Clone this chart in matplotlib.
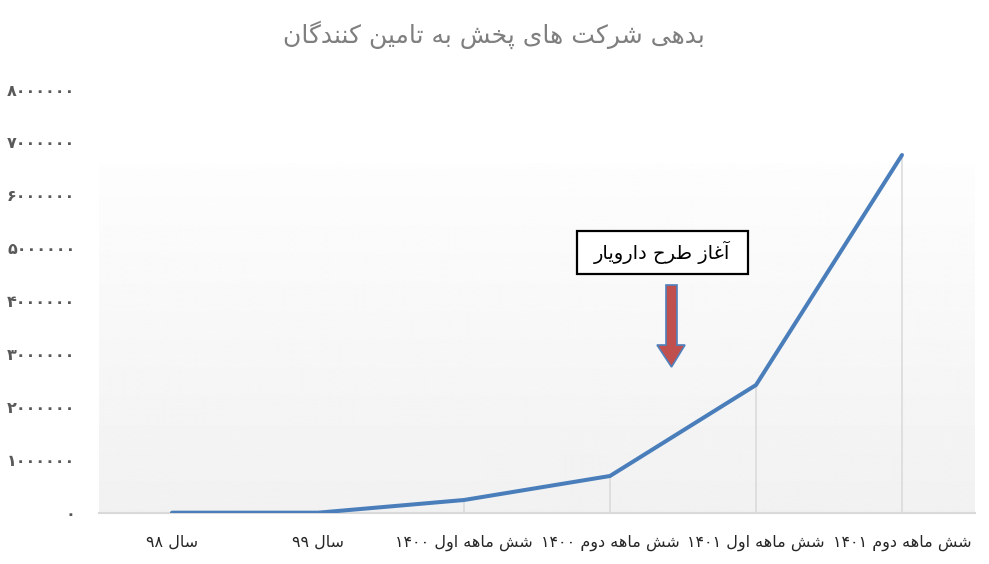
import re
import numpy as np
import matplotlib
matplotlib.use("Agg")
import matplotlib.pyplot as plt
from matplotlib.patches import Rectangle, Polygon
from matplotlib.colors import LinearSegmentedColormap

# data
periods = ["سال ۹۸", "سال ۹۹", "شش ماهه اول ۱۴۰۰", "شش ماهه دوم ۱۴۰۰",
           "شش ماهه اول ۱۴۰۱", "شش ماهه دوم ۱۴۰۱"]
debt = [0, 0, 240000, 694000, 2414000, 6762000]
y_ticks = [0, 1000000, 2000000, 3000000, 4000000, 5000000, 6000000, 7000000, 8000000]
title = "بدهی شرکت های پخش به تامین کنندگان"
note = "آغاز طرح دارویار"

# --- tiny arabic/persian shaper (matplotlib has no text shaping) ---
# letter: (isolated, final, initial, medial) ; right-joining letters have only 2 forms
FORMS = {
    'ا': (0xFE8D, 0xFE8E), 'آ': (0xFE81, 0xFE82),
    'د': (0xFEA9, 0xFEAA), 'ر': (0xFEAD, 0xFEAE), 'ز': (0xFEAF, 0xFEB0), 'و': (0xFEED, 0xFEEE),
    'ب': (0xFE8F, 0xFE90, 0xFE91, 0xFE92), 'ت': (0xFE95, 0xFE96, 0xFE97, 0xFE98),
    'ح': (0xFEA1, 0xFEA2, 0xFEA3, 0xFEA4), 'خ': (0xFEA5, 0xFEA6, 0xFEA7, 0xFEA8),
    'س': (0xFEB1, 0xFEB2, 0xFEB3, 0xFEB4), 'ش': (0xFEB5, 0xFEB6, 0xFEB7, 0xFEB8),
    'ط': (0xFEC1, 0xFEC2, 0xFEC3, 0xFEC4), 'غ': (0xFECD, 0xFECE, 0xFECF, 0xFED0),
    'ل': (0xFEDD, 0xFEDE, 0xFEDF, 0xFEE0), 'م': (0xFEE1, 0xFEE2, 0xFEE3, 0xFEE4),
    'ن': (0xFEE5, 0xFEE6, 0xFEE7, 0xFEE8), 'ه': (0xFEE9, 0xFEEA, 0xFEEB, 0xFEEC),
    'پ': (0xFB56, 0xFB57, 0xFB58, 0xFB59), 'ک': (0xFB8E, 0xFB8F, 0xFB90, 0xFB91),
    'گ': (0xFB92, 0xFB93, 0xFB94, 0xFB95), 'ی': (0xFBFC, 0xFBFD, 0xFBFE, 0xFBFF),
}

def fa(s):
    out = []
    for i, c in enumerate(s):
        if c not in FORMS:
            out.append(c)
            continue
        f = FORMS[c]
        prev = s[i-1] if i > 0 else ''
        nxt = s[i+1] if i < len(s)-1 else ''
        jp = prev in FORMS and len(FORMS[prev]) == 4
        jn = len(f) == 4 and nxt in FORMS
        if jp and jn:
            k = 3
        elif jp:
            k = 1
        elif jn:
            k = 2
        else:
            k = 0
        out.append(chr(f[k]))
    vis = ''.join(out)[::-1]
    # digits stay left-to-right
    return re.sub(r'[0-9۰-۹]+', lambda m: m.group(0)[::-1], vis)

def fa_num(v):
    return str(v).translate(str.maketrans('0123456789', '۰۱۲۳۴۵۶۷۸۹'))

plt.rcParams['font.family'] = ['DejaVu Sans']

W, H = 989, 564
fig = plt.figure(figsize=(W/100, H/100), dpi=100)
ax = fig.add_axes([99/W, 1-512.7/H, (975-99)/W, (512.7-89.5)/H])

x = np.arange(len(periods))

# gradient plot-area fill
grad = np.linspace(0.993, 0.945, 200).reshape(-1, 1)
cm = LinearSegmentedColormap.from_list('g', ['black', 'white'])
ax.imshow(grad, cmap=cm, vmin=0, vmax=1, extent=[-0.5, 5.5, 0, 6.61e6],
          aspect='auto', zorder=0, interpolation='bilinear')

ax.vlines(x, 0, debt, colors='#d9d9d9', lw=1.1, zorder=1)
ax.plot(x, debt, color='#4a7ebb', lw=2.9, solid_capstyle='round',
        solid_joinstyle='round', zorder=3)

ax.set_xlim(-0.5, 5.5)
ax.set_ylim(0, 8000000)
for s in ['top', 'right', 'left']:
    ax.spines[s].set_visible(False)
ax.spines['bottom'].set_color('#d9d9d9')
ax.spines['bottom'].set_linewidth(1.5)
ax.spines['bottom'].set_zorder(2)

ax.set_xticks(x)
ax.set_xticklabels([fa(p) for p in periods], fontsize=11.5, color='#262626')
ax.set_yticks(y_ticks)
ax.set_yticklabels([fa_num(v) for v in y_ticks], fontsize=11.5,
                   fontweight='bold', color='#595959')
ax.tick_params(axis='x', length=0, pad=16)
ax.tick_params(axis='y', length=0, pad=17)

fig.text(494/W, 1-35/H, fa(title), ha='center', va='center',
         fontsize=18, color='#7f7f7f')

# annotation box + arrow (pixel layout)
def px(xp, yp):
    return (xp/W, 1-yp/H)

box = Rectangle(px(577, 274), 171/W, 43/H, transform=fig.transFigure,
                facecolor='white', edgecolor='black', lw=1.6, zorder=5)
fig.add_artist(box)
fig.text(662/W, 1-252/H, fa(note), ha='center', va='center',
         fontsize=14, color='black', zorder=6)

arrow_pts = [px(666, 285), px(677, 285), px(677, 345), px(685, 345),
             px(671.5, 367), px(657, 345), px(666, 345)]
fig.add_artist(Polygon(arrow_pts, closed=True, transform=fig.transFigure,
                       facecolor='#c0504d', edgecolor='#4f81bd', lw=1.2, zorder=5))

fig.savefig('out.png', dpi=100)
